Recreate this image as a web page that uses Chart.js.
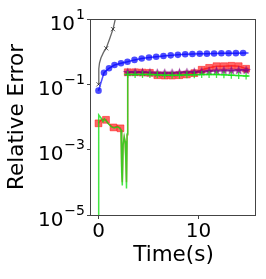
<!DOCTYPE html>
<html lang="en">

<head>
    <meta charset="UTF-8">
    <title>Relative Error</title>
    <script src="https://cdn.jsdelivr.net/npm/chart.js"></script>
    <style>
        body { margin: 0; background: #fff; }
        canvas { display: block; }
    </style>
</head>

<body>
    <canvas id="erroChart" width="266" height="279"></canvas>
</body>

</html>

<script>
    // dados
    var blackT = [0, 0.03, 0.1, 0.25, 0.5, 0.77, 1.1, 1.45, 1.7, 2.0];
    var blackY = [0.1, 0.3, 0.45, 0.65, 0.95, 1.27, 2.4, 4.9, 10.5, 20];
    var blackMarks = [0, 5, 7];

    var blueT = [0, 0.55, 1.05, 1.6, 2.25, 2.9, 3.6, 4.32, 5.05, 5.77, 6.5, 7.22, 7.94, 8.67, 9.39, 10.12, 10.84, 11.56, 12.29, 13.01, 13.74, 14.46, 15];
    var blueY = [0.064, 0.227, 0.31, 0.39, 0.44, 0.49, 0.56, 0.62, 0.66, 0.70, 0.74, 0.77, 0.80, 0.83, 0.85, 0.86, 0.87, 0.88, 0.89, 0.89, 0.90, 0.91, 0.91];
    var blueMarks = [0, 1, 2, 3, 4, 5, 6, 7, 8, 9, 10, 11, 12, 13, 14, 15, 16, 17, 18, 19, 20, 21];

    var redT = [0, 0.3, 0.75, 0.95, 1.3, 1.5, 1.9, 2.2, 2.25, 2.32, 2.38, 2.46, 2.57, 2.66, 2.74, 2.8, 2.86, 2.92, 3.66, 4.4, 5.14, 5.88, 6.62, 7.36, 8.1, 8.84, 9.58, 10.32, 11.06, 11.8, 12.54, 13.28, 14.02, 14.76, 15];
    var redY = [0.0064, 0.0085, 0.0082, 0.0064, 0.0052, 0.0048, 0.0052, 0.0045, 0.004, 0.0003, 0.0001, 0.0013, 0.0024, 0.0018, 0.0005, 0.0001, 0.0028, 0.235, 0.235, 0.23, 0.225, 0.19, 0.185, 0.185, 0.19, 0.2, 0.22, 0.28, 0.32, 0.36, 0.36, 0.37, 0.36, 0.3, 0.31];
    var redMarks = [0, 2, 5, 7, 17, 18, 19, 20, 21, 22, 23, 24, 25, 26, 27, 28, 29, 30, 31, 32, 33];

    var purpleT = [2.92, 3.66, 4.4, 5.14, 5.88, 6.62, 7.36, 8.1, 8.84, 9.58, 10.32, 11.06, 11.8, 12.54, 13.28, 14.02, 14.76, 15];
    var purpleY = [0.23, 0.23, 0.23, 0.225, 0.22, 0.22, 0.22, 0.225, 0.23, 0.235, 0.24, 0.25, 0.255, 0.26, 0.26, 0.265, 0.265, 0.265];
    var purpleMarks = [0, 1, 2, 3, 4, 5, 6, 7, 8, 9, 10, 11, 12, 13, 14, 15, 16];

    var greenT = [0, 0.02, 0.25, 0.45, 0.6, 0.95, 1.3, 1.6, 1.9, 2.1, 2.25, 2.32, 2.38, 2.46, 2.57, 2.66, 2.74, 2.8, 2.86, 2.92, 3.66, 4.4, 5.14, 5.88, 6.62, 7.36, 8.1, 8.84, 9.58, 10.32, 11.06, 11.8, 12.54, 13.28, 14.02, 14.76, 15];
    var greenY = [1e-7, 0.0115, 0.0093, 0.0072, 0.0088, 0.0064, 0.005, 0.0046, 0.005, 0.0046, 0.004, 0.0002, 0.00008, 0.0014, 0.0025, 0.0018, 0.0004, 0.000065, 0.003, 0.2, 0.2, 0.2, 0.2, 0.195, 0.19, 0.19, 0.19, 0.195, 0.195, 0.2, 0.2, 0.2, 0.195, 0.19, 0.185, 0.18, 0.18];
    var greenMarks = [19, 20, 21, 22, 23, 24, 25, 26, 27, 28, 29, 30, 31, 32, 33, 34, 35];

    var xTicks = [0, 10];
    var yTicks = [1e-5, 1e-3, 1e-1, 1e1];

    function pontos(ts, ys) {
        return ts.map(function (t, i) { return { x: t, y: ys[i] }; });
    }

    function raio(marks, r) {
        return function (ctx) { return marks.indexOf(ctx.dataIndex) >= 0 ? r : 0; };
    }

    // estrela preenchida (marcador '*')
    var estrela = document.createElement('canvas');
    estrela.width = 11;
    estrela.height = 11;
    var ec = estrela.getContext('2d');
    ec.beginPath();
    for (var k = 0; k < 10; k++) {
        var ang = -Math.PI / 2 + k * Math.PI / 5;
        var rr = k % 2 === 0 ? 5 : 2.1;
        ec.lineTo(5.5 + rr * Math.cos(ang), 5.5 + rr * Math.sin(ang));
    }
    ec.closePath();
    ec.fillStyle = 'rgba(128,0,128,0.8)';
    ec.fill();

    var moldura = {
        id: 'moldura',
        afterDraw: function (chart) {
            var a = chart.chartArea;
            var c = chart.ctx;
            c.save();
            c.strokeStyle = '#444';
            c.lineWidth = 1;
            c.strokeRect(a.left - 0.5, a.top + 0.5, a.right - a.left, a.bottom - a.top);

            // rotulos 10^n
            var y = chart.scales.y;
            c.fillStyle = '#000';
            c.textBaseline = 'alphabetic';
            yTicks.forEach(function (v) {
                var py = y.getPixelForValue(v);
                var ex = String(Math.round(Math.log10(v))).replace('-', '\u2212');
                c.font = '14px "DejaVu Sans"';
                var we = c.measureText(ex).width;
                c.textAlign = 'right';
                c.fillText(ex, 85, py - 0.5);
                c.font = '20px "DejaVu Sans"';
                c.fillText('10', 85 - we - 1, py + 10.7);
            });
            c.restore();
        }
    };

    Chart.defaults.font.family = '"DejaVu Sans"';
    Chart.defaults.color = '#000';

    var ctx = document.getElementById('erroChart').getContext('2d');
    new Chart(ctx, {
        type: 'line',
        data: {
            datasets: [
                {
                    data: pontos(greenT, greenY),
                    borderColor: 'rgba(20,225,20,0.8)',
                    backgroundColor: 'rgba(20,225,20,0.8)',
                    borderWidth: 1.5,
                    pointStyle: 'cross',
                    pointRadius: raio(greenMarks, 3.5),
                    pointBorderWidth: 1.3,
                    order: 1
                },
                {
                    data: pontos(purpleT, purpleY),
                    borderColor: 'rgba(128,0,128,0.7)',
                    backgroundColor: 'rgba(128,0,128,0.7)',
                    borderWidth: 1.5,
                    pointStyle: estrela,
                    pointRadius: raio(purpleMarks, 4),
                    order: 2
                },
                {
                    data: pontos(redT, redY),
                    borderColor: 'rgba(255,0,0,0.6)',
                    backgroundColor: 'rgba(255,0,0,0.6)',
                    borderWidth: 1.5,
                    pointStyle: 'rect',
                    pointRadius: raio(redMarks, 4.8),
                    pointBorderWidth: 0.8,
                    order: 3
                },
                {
                    data: pontos(blueT, blueY),
                    borderColor: 'rgba(0,0,255,0.7)',
                    backgroundColor: 'rgba(0,0,255,0.7)',
                    borderWidth: 1.5,
                    pointStyle: 'circle',
                    pointRadius: raio(blueMarks, 3.3),
                    pointBorderWidth: 0,
                    order: 4
                },
                {
                    data: pontos(blackT, blackY),
                    borderColor: 'rgba(0,0,0,0.6)',
                    backgroundColor: 'rgba(0,0,0,0.6)',
                    borderWidth: 1.3,
                    pointStyle: 'crossRot',
                    pointRadius: raio(blackMarks, 3),
                    pointBorderWidth: 1,
                    order: 5
                }
            ]
        },
        options: {
            responsive: false,
            animation: false,
            events: [],
            layout: { padding: { top: 19, right: 10, left: 0, bottom: 0 } },
            elements: { line: { tension: 0 } },
            plugins: {
                legend: { display: false },
                tooltip: { enabled: false }
            },
            scales: {
                x: {
                    type: 'linear',
                    min: -0.75,
                    max: 15.75,
                    afterFit: function (s) { s.height = 64; },
                    afterBuildTicks: function (s) {
                        s.ticks = xTicks.map(function (v) { return { value: v }; });
                    },
                    grid: { drawOnChartArea: false, tickLength: 4, color: '#444' },
                    border: { display: false },
                    ticks: { font: { size: 20 }, padding: 1, maxRotation: 0 },
                    title: {
                        display: true,
                        text: 'Time(s)',
                        font: { size: 21.5 },
                        padding: { top: 0, bottom: 11 }
                    }
                },
                y: {
                    type: 'logarithmic',
                    min: 1e-5,
                    max: 10,
                    afterFit: function (s) { s.width = 91; },
                    afterBuildTicks: function (s) {
                        s.ticks = yTicks.map(function (v) { return { value: v }; });
                    },
                    grid: { drawOnChartArea: false, tickLength: 4, color: '#444' },
                    border: { display: false },
                    ticks: { display: false },
                    title: {
                        display: true,
                        text: 'Relative Error',
                        font: { size: 21.5 },
                        padding: { top: 5, bottom: 0 }
                    }
                }
            }
        },
        plugins: [moldura]
    });
</script>
